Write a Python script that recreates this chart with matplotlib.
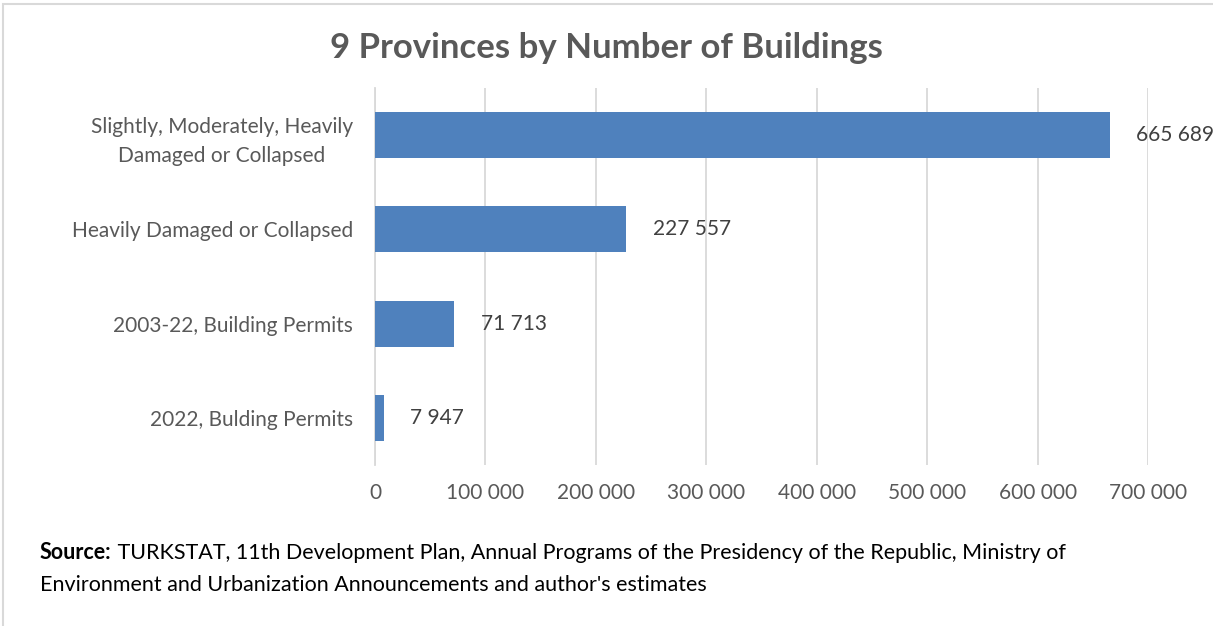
import matplotlib.pyplot as plt
from matplotlib.ticker import FuncFormatter
from matplotlib.patches import Rectangle

categories = [
    "Slightly, Moderately, Heavily\nDamaged or Collapsed",
    "Heavily Damaged or Collapsed",
    "2003-22, Building Permits",
    "2022, Bulding Permits",
]
values = [665689, 227557, 71713, 7947]
x_ticks = [0, 100000, 200000, 300000, 400000, 500000, 600000, 700000]
source_text = ("TURKSTAT, 11th Development Plan, Annual Programs of the Presidency "
               "of the Republic, Ministry of")
source_text2 = "Environment and Urbanization Announcements and author's estimates"

plt.rcParams["font.family"] = ["Lato", "DejaVu Sans"]
text_color = "#595959"
bar_color = "#4f81bd"


def spaced(v, pos=None):
    return f"{int(v):,}".replace(",", " ")


fig = plt.figure(figsize=(12.13, 6.26), dpi=100)
ax = fig.add_axes([375 / 1213, 1 - 465 / 626, (1148 - 375) / 1213, 377 / 626])

ypos = list(range(len(categories)))
ax.barh(ypos, values, height=0.49, color=bar_color, zorder=3)
ax.set_ylim(len(categories) - 0.5, -0.5)
ax.set_xlim(0, 700000)
ax.set_xticks(x_ticks)
ax.xaxis.set_major_formatter(FuncFormatter(spaced))
ax.set_yticks(ypos)
ax.set_yticklabels(categories, fontsize=15, color=text_color, ha="right",
                   multialignment="center", linespacing=1.55)
ax.tick_params(axis="x", colors=text_color, labelsize=15, length=0, pad=13)
ax.tick_params(axis="y", length=0, pad=16)
ax.grid(axis="x", color="#d9d9d9", linewidth=1.3, zorder=0)
for s in ["top", "right", "bottom"]:
    ax.spines[s].set_visible(False)
ax.spines["left"].set_color("#d9d9d9")
ax.spines["left"].set_linewidth(1.3)

for y, v in zip(ypos, values):
    ax.annotate(spaced(v), (v, y), xytext=(19, 0), textcoords="offset points",
                va="center", ha="left", fontsize=15, color="#404040")

fig.text(0.5, 1 - 48 / 626, "9 Provinces by Number of Buildings",
         ha="center", va="center", fontsize=25, fontweight="bold", color=text_color)

src = fig.text(40 / 1213, 1 - 559 / 626, "Source:", fontsize=15.5,
               fontweight="bold", va="baseline", color="black")
ax.annotate(" " + source_text, xy=(1, 0), xycoords=src, va="bottom",
            fontsize=15.5, color="black", annotation_clip=False)
fig.text(40 / 1213, 1 - 591 / 626, source_text2, fontsize=15.5,
         va="baseline", color="black")

# light frame around the chart area
fig.patches.append(Rectangle((3 / 1213, -0.1), 1.2, 1 - 4 / 626 + 0.1,
                             transform=fig.transFigure, fill=False,
                             edgecolor="#d9d9d9", linewidth=1.5))

fig.savefig("out.png", dpi=100)
